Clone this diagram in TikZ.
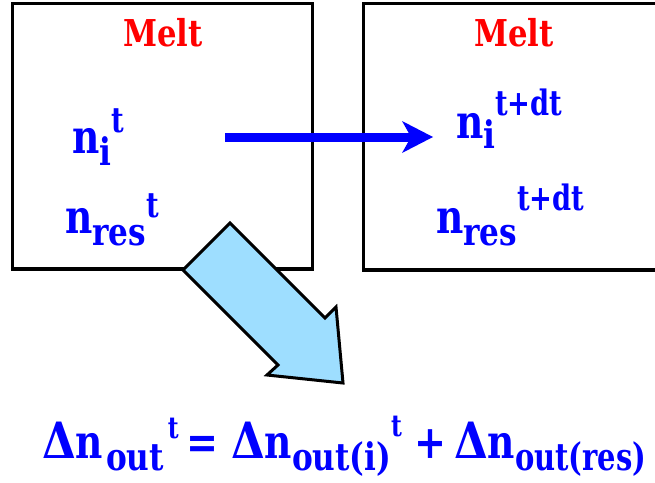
\documentclass[tikz,border=0pt]{standalone}
\usepackage{graphicx}
\usepackage{fontspec}
\newfontfamily\tbfont[FakeStretch=0.83]{DejaVu Serif Bold}
\newfontfamily\sqfont[FakeStretch=0.8]{DejaVu Serif Bold}
\newfontfamily\subfont[FakeStretch=0.82]{DejaVu Serif Bold}
\newfontfamily\supfont[FakeStretch=0.78]{DejaVu Serif Bold}
\newfontfamily\dltfont[FakeStretch=0.87]{DejaVu Serif Bold}
\usetikzlibrary{arrows.meta}
\definecolor{fatblue}{RGB}{158,222,255}
\newcommand\fmain{\sqfont\fontsize{47pt}{47pt}\selectfont}
\newcommand\fdlt{\dltfont\fontsize{50pt}{50pt}\selectfont}
\newcommand\fsubs{\subfont\fontsize{38pt}{38pt}\selectfont}
\newcommand\fsups{\supfont\fontsize{35pt}{35pt}\selectfont}
\newcommand\feqsup{\supfont\fontsize{30pt}{30pt}\selectfont}
\newcommand\fop{\tbfont\fontsize{46pt}{46pt}\selectfont}
\begin{document}
\begin{tikzpicture}[x=1pt,y=-1pt,
  boxline/.style={draw=black,line width=3.5pt},
  txt/.style={inner sep=0pt,outer sep=0pt,anchor=base west,text=blue},
  melt/.style={inner sep=0pt,anchor=base,text=red,font=\tbfont\fontsize{37pt}{37pt}\selectfont},
  flow/.style={draw=blue,line width=9pt,-{Stealth[length=31pt,width=32pt,inset=9pt,line width=0pt]}},
  fat/.style={draw=black,fill=fatblue,line width=3pt,line join=miter}]
\useasboundingbox (0,0) rectangle (655,482);
% boxes
\draw[boxline] (12.5,3.5) rectangle (312.5,269);
\draw[boxline] (363.5,3.5) rectangle (680,270);
% titles
\node[melt] (melt1) at (163,46) {Melt};
\node[melt] (melt2) at (514,46) {Melt};
% left box quantities
\node[txt] (ni) at (72,153) {{\fmain n}\raisebox{-12pt}{\fsubs i}\raisebox{21pt}{\fsups t}};
\node[txt] (nres) at (65,233) {{\fmain n}\raisebox{-12pt}{\fsubs res}\raisebox{16pt}{\fsups t}};
% right box quantities
\node[txt] (ni2) at (456,138) {{\fmain n}\raisebox{-10pt}{\fsubs i}\raisebox{23pt}{\fsups t+dt}};
\node[txt] (nres2) at (436,233) {{\fmain n}\raisebox{-12pt}{\fsubs res}\raisebox{23pt}{\fsups t+dt}};
% flow arrow
\coordinate (fstart) at (225,137);
\coordinate (fend) at (433,137);
\draw[flow] (fstart) -- (fend);
% fat arrow
\draw[fat] (230,223) -- (325,318) -- (336,307) -- (343,383) -- (267,375) -- (278,365) -- (183,270) -- cycle;
% equation
\node[txt] (eqa) at (42,458) {{\fdlt Δ}{\fmain n}\hspace{3pt}\raisebox{-12pt}{\fsubs out}\hspace{4pt}\raisebox{20pt}{\feqsup t}};
\node[txt] (eqeq) at (186,458) {\fop =};
\node[txt] (eqb) at (231,458) {{\fdlt Δ}{\fmain n}\raisebox{-12pt}{\fsubs out(i)}\raisebox{22pt}{\feqsup t}};
\node[txt] (eqplus) at (414,458) {\fop +};
\node[txt] (eqc) at (454,458) {{\fdlt Δ}{\fmain n}\raisebox{-12pt}{\scalebox{0.93}[1]{\fsubs out(res)}}};
\end{tikzpicture}
\end{document}
